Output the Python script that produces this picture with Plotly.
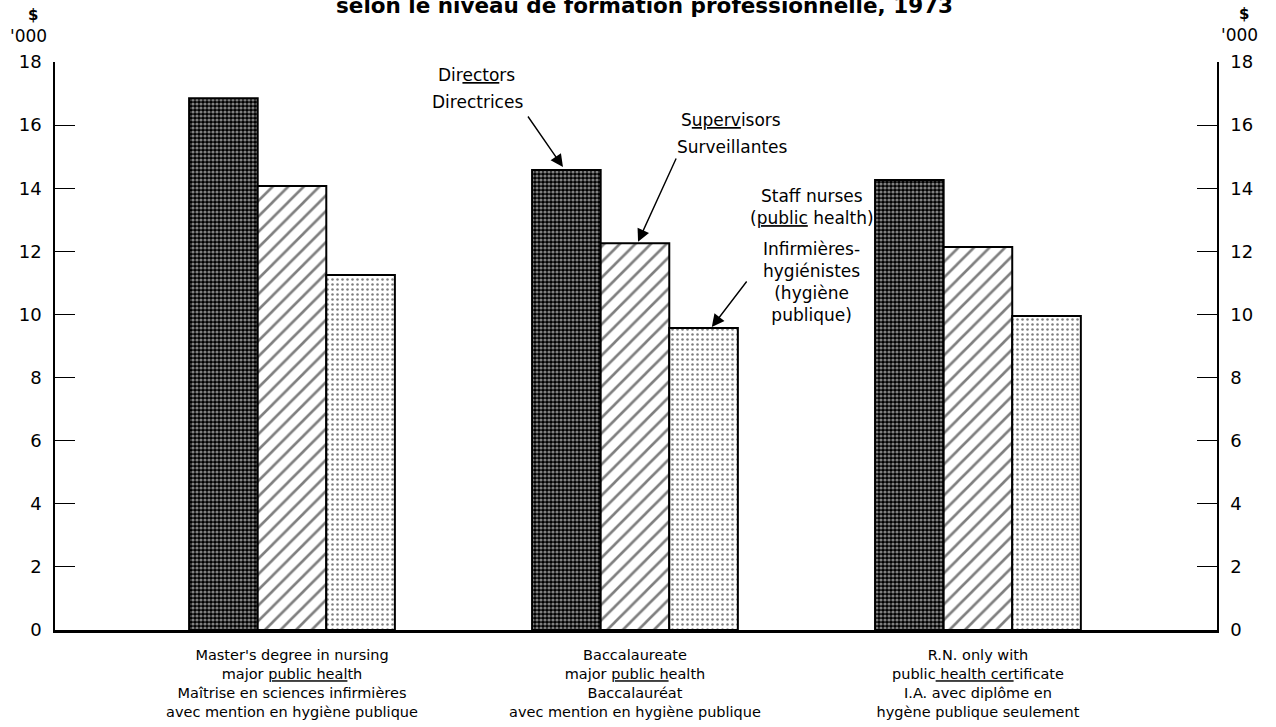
import plotly.graph_objects as go

categories = [
    "Master's degree in nursing<br>major <u>public heal</u>th<br>Maîtrise en sciences infirmières<br>avec mention en hygiène publique",
    "Baccalaureate<br>major <u>public h</u>ealth<br>Baccalauréat<br>avec mention en hygiène publique",
    "R.N. only with<br>public<u> health cer</u>tificate<br>I.A. avec diplôme en<br>hygène publique seulement",
]
cat_pos = [0, 1, 2]
directors = [16.85, 14.58, 14.26]
supervisors = [14.07, 12.26, 12.14]
staff = [11.25, 9.57, 9.95]
yticks = [0, 2, 4, 6, 8, 10, 12, 14, 16, 18]

FONT = "DejaVu Sans"
fig = go.Figure()

def add_bar(vals, name, shape, size, solidity, fg, bg):
    fig.add_trace(go.Bar(
        x=cat_pos, y=vals, name=name,
        marker=dict(color=bg, line=dict(color="black", width=2),
                    pattern=dict(shape=shape, size=size, solidity=solidity,
                                 fgcolor=fg, bgcolor=bg, fillmode="overlay")),
    ))

add_bar(directors, "Directors", ".", 4, 0.5, "white", "black")
add_bar(supervisors, "Supervisors", "/", 11, 0.24, "black", "white")
add_bar(staff, "Staff nurses", ".", 5, 0.2, "black", "white")

# invisible trace for right axis
fig.add_trace(go.Scatter(x=[cat_pos[0]], y=[0], yaxis="y2", mode="markers",
                         marker=dict(opacity=0), showlegend=False, hoverinfo="skip"))

axis_common = dict(range=[0, 18], tickvals=yticks, showline=True, linewidth=1.5,
                   linecolor="black", ticks="inside", ticklen=20, tickwidth=1.2,
                   tickcolor="black", showgrid=False, zeroline=False,
                   ticklabelstandoff=8, automargin=False,
                   tickfont=dict(family=FONT, size=18, color="black"))

fig.update_layout(
    width=1276, height=727,
    margin=dict(l=55, r=59, t=62, b=97),
    paper_bgcolor="white", plot_bgcolor="white",
    barmode="group", bargap=0.4, bargroupgap=0,
    showlegend=False,
    font=dict(family=FONT, color="black"),
    xaxis=dict(range=[-0.691, 2.697], tickvals=cat_pos, ticktext=categories,
               showline=True, linewidth=3, linecolor="black", ticks="",
               showgrid=False, zeroline=False, ticklabelstandoff=10,
               automargin=False,
               tickfont=dict(family=FONT, size=14.5, color="black")),
    yaxis=axis_common,
    yaxis2=dict(axis_common, overlaying="y", side="right"),
)

ann_font = dict(family=FONT, size=17, color="black")
# Title (cut at top, as in the source)
fig.add_annotation(xref="paper", yref="paper", x=0.5077, y=1.0986, yanchor="middle",
                   xanchor="center",
                   text="<b>selon le niveau de formation professionnelle, 1973</b>",
                   showarrow=False, font=dict(family=FONT, size=21.5, color="black"))
# Units
for x, y1, y2 in [(-0.0189, 1.0827, 1.0458), (1.0232, 1.0845, 1.0476)]:
    fig.add_annotation(xref="paper", yref="paper", x=x, y=y1, text="<b>$</b>",
                       xanchor="center", yanchor="middle",
                       showarrow=False, font=dict(family=FONT, size=15, color="black"))
    fig.add_annotation(xref="paper", yref="paper", x=x - 0.0035, y=y2, text="'000",
                       xanchor="center", yanchor="middle",
                       showarrow=False, font=dict(family=FONT, size=17, color="black"))

# Series labels
def label(x, y, text):
    fig.add_annotation(x=x, y=y, text=text, showarrow=False, font=ann_font,
                       xanchor="center", yanchor="middle")

label(0.539, (630 - 75) / 31.556, "Dir<u>ecto</u>rs")
label(0.542, (630 - 102) / 31.556, "Directrices")
label(1.280, (630 - 120) / 31.556, "S<u>uperv</u>isors")
label(1.284, (630 - 147) / 31.556, "Surveillantes")
label(1.516, (630 - 207) / 31.556, "Staff nurses<br>(<u>public</u> health)")
label(1.516, (630 - 282) / 31.556, "Infirmières-<br>hygiénistes<br>(hygiène<br>publique)")

# Arrows
for hx, hy, tx, ty in [(0.790, 14.67, 0.685, 16.32),
                       (1.009, 12.30, 1.122, 14.99),
                       (1.224, 9.60, 1.329, 11.09)]:
    fig.add_annotation(x=hx, y=hy, ax=tx, ay=ty, axref="x", ayref="y", text="",
                       showarrow=True, arrowhead=2, arrowsize=1.8, arrowwidth=1.4,
                       arrowcolor="black")

fig.write_html("out.html", config={"displayModeBar": False},
               post_script="document.body.style.margin='0';")
